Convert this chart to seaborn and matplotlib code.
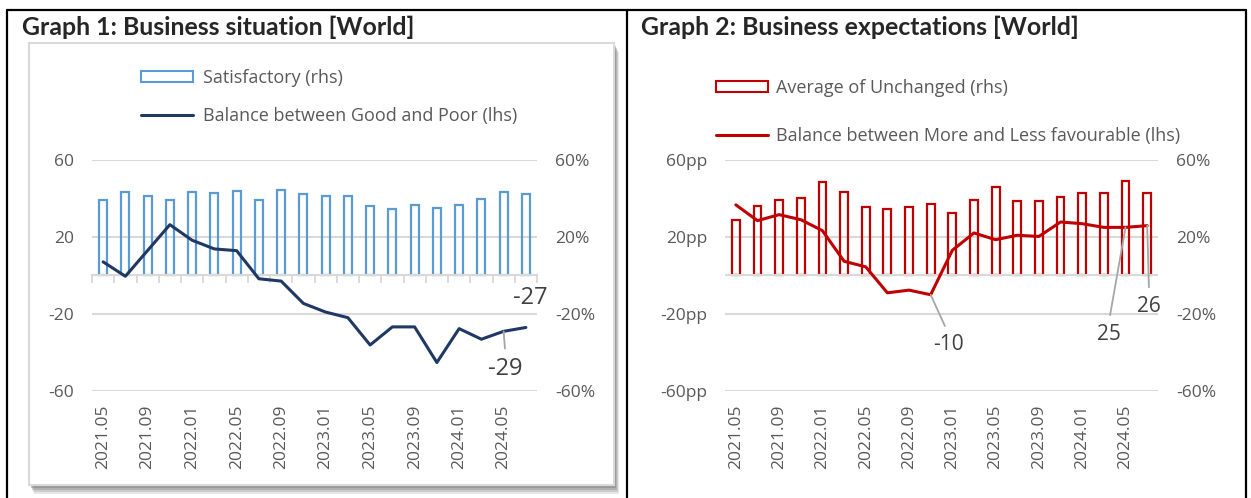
import numpy as np
import seaborn as sns
import matplotlib.pyplot as plt
from matplotlib.lines import Line2D
from matplotlib.patches import Patch, Rectangle

# bimonthly survey waves
months = ['2021.05', '2021.07', '2021.09', '2021.11', '2022.01', '2022.03', '2022.05',
          '2022.07', '2022.09', '2022.11', '2023.01', '2023.03', '2023.05', '2023.07',
          '2023.09', '2023.11', '2024.01', '2024.03', '2024.05', '2024.07']

# Graph 1 - business situation
satisfactory = [39.3, 43.6, 41.5, 39.0, 43.6, 43.1, 44.0, 39.3, 44.3, 42.1,
                41.5, 41.5, 35.9, 34.5, 36.4, 35.3, 36.6, 39.5, 43.6, 42.3]
good_poor = [7.1, -0.4, 13.0, 26.4, 18.3, 13.8, 12.9, -1.7, -2.9, -14.5,
             -19.0, -21.9, -36.1, -26.7, -26.7, -45.2, -27.6, -33.1, -29.0, -27.0]

# Graph 2 - business expectations
unchanged = [29.0, 35.9, 39.3, 40.2, 48.8, 43.3, 35.5, 34.5, 35.5, 37.2,
             32.4, 39.3, 46.2, 38.6, 38.6, 40.7, 42.8, 42.8, 49.0, 42.8]
more_less = [36.7, 28.5, 31.6, 29.0, 23.3, 7.4, 4.5, -9.0, -7.6, -10.0,
             13.1, 22.1, 18.6, 20.9, 20.3, 27.8, 26.9, 25.0, 25.0, 25.9]

yticks = [-60, -20, 20, 60]

W, H = 1251, 498
GRID = '#d9d9d9'
TXT = '#595959'

sns.set_style('white')
plt.rcParams['font.family'] = ['Open Sans', 'DejaVu Sans']


def fx(px):
    return px / W


def fy(py):
    return 1 - py / H


def draw_panel(ax, bars, line, bar_color, line_color, left_fmt, notes, note_size, tick_marks):
    ax_r = ax.twinx()
    # bars belong to the right-hand scale, line to the left-hand one
    sns.barplot(x=months, y=bars, ax=ax_r, fill=False, color=bar_color,
                width=0.36, linewidth=1.6)
    sns.lineplot(x=np.arange(len(months)), y=line, ax=ax, color=line_color,
                 linewidth=2.2)
    ax.set_zorder(ax_r.get_zorder() + 1)
    ax.patch.set_visible(False)
    ax_r.patch.set_visible(False)

    for a in (ax, ax_r):
        a.set_ylim(-60, 60)
        a.set_xlim(-0.5, len(months) - 0.5)
        a.set_xlabel('')
        a.set_ylabel('')
        for s in a.spines.values():
            s.set_visible(False)

    ax_r.set_yticks(yticks, labels=[f'{t}%' for t in yticks])
    ax.set_yticks(yticks, labels=[left_fmt.format(t) for t in yticks])
    ax.set_xticks(np.arange(0, len(months), 2), labels=months[::2], rotation=90)
    ax.tick_params(axis='x', length=0, pad=10, labelsize=12.5, labelcolor=TXT)
    ax.tick_params(axis='y', length=0, pad=13, labelsize=12.5, labelcolor=TXT)
    ax_r.tick_params(axis='y', length=0, pad=13, labelsize=12.5, labelcolor=TXT)
    ax_r.set_axisbelow(True)
    ax_r.yaxis.grid(True, color=GRID, linewidth=1.5)

    if tick_marks:
        sec = ax.secondary_xaxis(0, transform=ax.transData)
        sec.set_xticks(np.arange(-0.5, len(months), 1), labels=[])
        sec.tick_params(axis='x', direction='out', length=6, width=1.3, color=GRID)
        for s in sec.spines.values():
            s.set_color(GRID)
            s.set_linewidth(1.5)
    else:
        ax_r.axhline(0, color=GRID, linewidth=1.5)

    for idx, (dx, dy), leader in notes:
        arrow = None
        if leader:
            arrow = dict(arrowstyle='-', color='#a6a6a6', lw=1.3,
                         shrinkA=4, shrinkB=0, relpos=(0.5, 1.0))
        ax.annotate(f'{line[idx]:.0f}', xy=(idx, line[idx]), xytext=(dx, dy),
                    textcoords='offset pixels', ha='center', va='center',
                    fontsize=note_size, color='#404040', arrowprops=arrow)


fig = plt.figure(figsize=(W / 100, H / 100), dpi=100)

# shadowed frame behind graph 1
for off, alpha in [(9, 0.18), (7, 0.25), (5, 0.35), (3, 0.45)]:
    fig.add_artist(Rectangle((fx(29 + off / 2), fy(485 + off)), (614 - 29) / W, (485 - 43) / H,
                             transform=fig.transFigure, facecolor='#7f7f7f', alpha=alpha,
                             edgecolor='none', zorder=-3))
fig.add_artist(Rectangle((fx(29), fy(485)), (614 - 29) / W, (485 - 43) / H,
                         transform=fig.transFigure, facecolor='white', edgecolor=GRID,
                         linewidth=1.5, zorder=-2))

# table cell borders
for xs, ys in [([7, 7], [10, H]), ([7, 1246], [10, 10]), ([627, 627], [10, H]),
               ([1246, 1246], [10, H])]:
    fig.add_artist(Line2D([fx(x) for x in xs], [fy(y) for y in ys], color='black',
                          linewidth=1.6, transform=fig.transFigure))

ax1 = fig.add_axes([fx(92), fy(391), (537 - 92) / W, (391 - 160) / H])
ax2 = fig.add_axes([fx(725), fy(391), (1158 - 725) / W, (391 - 160) / H])

blue, navy = '#5b9bd5', '#1f3864'
red = '#c00000'

draw_panel(ax1, satisfactory, good_poor, blue, navy, '{}',
           [(19, (4, 29), False), (18, (2, -38), True)], 17, True)
draw_panel(ax2, unchanged, more_less, red, red, '{}pp',
           [(9, (18, -50), True), (18, (-17, -107), True), (19, (2, -81), True)], 15, False)

fig.text(fx(22), fy(35), 'Graph 1: Business situation [World]', family='Lato',
         fontweight='bold', fontsize=17.9, va='baseline')
fig.text(fx(641), fy(35), 'Graph 2: Business expectations [World]', family='Lato',
         fontweight='bold', fontsize=17.9, va='baseline')

fig.legend([Patch(facecolor='none', edgecolor=blue, linewidth=1.5),
            Line2D([], [], color=navy, linewidth=2.2)],
           ['Satisfactory (rhs)', 'Balance between Good and Poor (lhs)'],
           loc='center left', bbox_to_anchor=(fx(141), fy(97)), frameon=False,
           borderpad=0, borderaxespad=0, handlelength=2.9, handleheight=0.55,
           handletextpad=0.55, labelspacing=1.1, fontsize=13, labelcolor=TXT)
fig.legend([Patch(facecolor='none', edgecolor=red, linewidth=1.5),
            Line2D([], [], color=red, linewidth=2.2)],
           ['Average of Unchanged (rhs)', 'Balance between More and Less favourable (lhs)'],
           loc='center left', bbox_to_anchor=(fx(716), fy(112)), frameon=False,
           borderpad=0, borderaxespad=0, handlelength=2.9, handleheight=0.55,
           handletextpad=0.4, labelspacing=1.67, fontsize=13, labelcolor=TXT)

fig.savefig('out.png', dpi=100)
